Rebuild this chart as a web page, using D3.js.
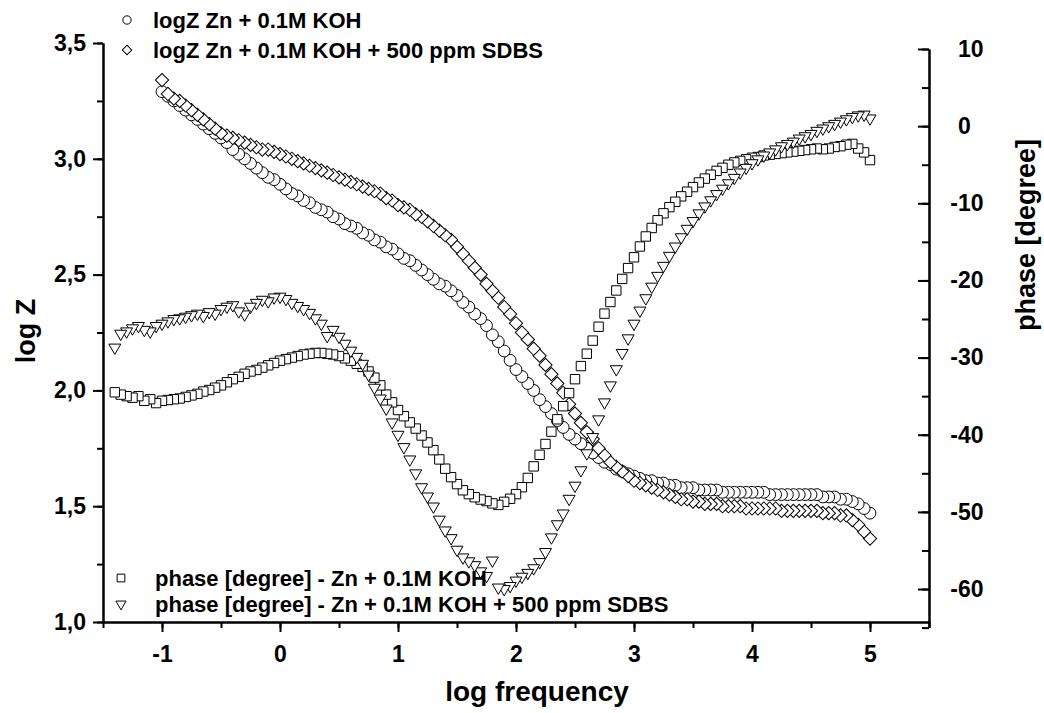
<!DOCTYPE html>
<html>
<head>
<meta charset="utf-8">
<script src="https://cdn.jsdelivr.net/npm/d3@7"></script>
<style>
  body { margin: 0; background: #fff; }
  svg text { font-family: "Liberation Sans", Arial, sans-serif; font-weight: bold; fill: #000; }
  .axis path, .axis line { stroke: #000; stroke-width: 2; }
</style>
</head>
<body>
<svg width="1044" height="713"></svg>
<script>
// log frequency grid shared by all series (phase starts at -1.4, log Z at -1.0)
const logFreq = [
  -1.40, -1.35, -1.30, -1.25, -1.20, -1.15, -1.10, -1.05,
  -1.00, -0.95, -0.90, -0.85, -0.80, -0.75, -0.70, -0.65, -0.60, -0.55,
  -0.50, -0.45, -0.40, -0.35, -0.30, -0.25, -0.20, -0.15, -0.10, -0.05,
  0.00, 0.05, 0.10, 0.15, 0.20, 0.25, 0.30, 0.35, 0.40, 0.45,
  0.50, 0.55, 0.60, 0.65, 0.70, 0.75, 0.80, 0.85, 0.90, 0.95,
  1.00, 1.05, 1.10, 1.15, 1.20, 1.25, 1.30, 1.35, 1.40, 1.45,
  1.50, 1.55, 1.60, 1.65, 1.70, 1.75, 1.80, 1.85, 1.90, 1.95,
  2.00, 2.05, 2.10, 2.15, 2.20, 2.25, 2.30, 2.35, 2.40, 2.45,
  2.50, 2.55, 2.60, 2.65, 2.70, 2.75, 2.80, 2.85, 2.90, 2.95,
  3.00, 3.05, 3.10, 3.15, 3.20, 3.25, 3.30, 3.35, 3.40, 3.45,
  3.50, 3.55, 3.60, 3.65, 3.70, 3.75, 3.80, 3.85, 3.90, 3.95,
  4.00, 4.05, 4.10, 4.15, 4.20, 4.25, 4.30, 4.35, 4.40, 4.45,
  4.50, 4.55, 4.60, 4.65, 4.70, 4.75, 4.80, 4.85, 4.90, 4.95,
  5.00
];

// log Z, Zn + 0.1M KOH (from logFreq -1.0)
const logZKoh = [
  3.29, 3.27, 3.25, 3.23, 3.21, 3.19, 3.17, 3.15, 3.13, 3.11,
  3.09, 3.07, 3.04, 3.02, 3.00, 2.98, 2.96, 2.94, 2.92, 2.91,
  2.89, 2.87, 2.85, 2.84, 2.82, 2.81, 2.79, 2.78, 2.77, 2.75,
  2.74, 2.72, 2.71, 2.70, 2.68, 2.67, 2.65, 2.64, 2.62, 2.61,
  2.59, 2.57, 2.56, 2.54, 2.52, 2.50, 2.48, 2.46, 2.45, 2.43,
  2.41, 2.38, 2.36, 2.33, 2.31, 2.28, 2.24, 2.21, 2.17, 2.13,
  2.09, 2.06, 2.03, 2.00, 1.96, 1.93, 1.90, 1.87, 1.84, 1.81,
  1.79, 1.77, 1.75, 1.73, 1.71, 1.69, 1.68, 1.66, 1.65, 1.64,
  1.63, 1.62, 1.61, 1.61, 1.60, 1.60, 1.59, 1.59, 1.58, 1.58,
  1.58, 1.57, 1.57, 1.57, 1.57, 1.56, 1.56, 1.56, 1.56, 1.56,
  1.56, 1.56, 1.56, 1.55, 1.55, 1.55, 1.55, 1.55, 1.55, 1.55,
  1.55, 1.55, 1.54, 1.54, 1.54, 1.53, 1.53, 1.52, 1.51, 1.49,
  1.47
];

// log Z, Zn + 0.1M KOH + 500 ppm SDBS (from logFreq -1.0)
const logZSdbs = [
  3.34, 3.28, 3.26, 3.25, 3.23, 3.21, 3.19, 3.17, 3.15, 3.13,
  3.11, 3.10, 3.09, 3.08, 3.07, 3.06, 3.05, 3.04, 3.04, 3.03,
  3.02, 3.01, 3.00, 2.99, 2.98, 2.97, 2.96, 2.95, 2.94, 2.93,
  2.92, 2.91, 2.90, 2.89, 2.88, 2.87, 2.86, 2.85, 2.83, 2.82,
  2.80, 2.79, 2.78, 2.76, 2.75, 2.73, 2.71, 2.69, 2.67, 2.65,
  2.62, 2.59, 2.56, 2.53, 2.50, 2.46, 2.43, 2.40, 2.36, 2.33,
  2.29, 2.25, 2.22, 2.18, 2.15, 2.11, 2.07, 2.03, 1.99, 1.94,
  1.90, 1.86, 1.82, 1.79, 1.75, 1.72, 1.69, 1.67, 1.65, 1.63,
  1.61, 1.60, 1.59, 1.58, 1.57, 1.56, 1.55, 1.54, 1.53, 1.53,
  1.52, 1.52, 1.51, 1.51, 1.51, 1.50, 1.50, 1.50, 1.50, 1.49,
  1.49, 1.49, 1.49, 1.49, 1.49, 1.48, 1.48, 1.48, 1.48, 1.48,
  1.48, 1.48, 1.47, 1.47, 1.47, 1.46, 1.46, 1.44, 1.42, 1.39,
  1.36
];

// phase [degree], Zn + 0.1M KOH (from logFreq -1.4)
const phaseKoh = [
  -34.5, -34.8, -35.0, -35.2, -35.0, -35.6, -35.4, -35.9,
  -35.6, -35.5, -35.4, -35.3, -35.1, -34.9, -34.7, -34.4, -34.2, -33.9,
  -33.6, -33.2, -32.8, -32.5, -32.1, -31.8, -31.6, -31.3, -31.0, -30.7,
  -30.4, -30.2, -30.0, -29.8, -29.6, -29.5, -29.4, -29.4, -29.5, -29.6,
  -29.8, -30.1, -30.4, -30.8, -31.2, -31.8, -32.6, -33.6, -34.8, -35.8,
  -36.8, -37.6, -38.4, -39.2, -40.1, -41.0, -42.0, -43.2, -44.4, -45.5,
  -46.4, -47.2, -47.7, -48.1, -48.4, -48.6, -48.9, -49.1, -48.7, -48.3,
  -47.7, -46.8, -45.6, -44.1, -42.6, -41.2, -39.6, -38.0, -36.3, -34.6,
  -32.8, -31.1, -29.5, -27.8, -26.0, -24.3, -22.8, -21.3, -19.8, -18.4,
  -17.0, -15.6, -14.3, -13.2, -12.2, -11.3, -10.5, -9.8, -9.1, -8.5,
  -7.9, -7.3, -6.8, -6.3, -5.8, -5.4, -5.0, -4.7, -4.5, -4.3,
  -4.1, -4.0, -3.8, -3.7, -3.6, -3.5, -3.4, -3.3, -3.2, -3.1,
  -3.0, -2.9, -3.0, -2.9, -2.7, -2.6, -2.4, -2.3, -2.9, -3.4,
  -4.4
];

// phase [degree], Zn + 0.1M KOH + 500 ppm SDBS (from logFreq -1.4)
const phaseSdbs = [
  -28.7, -26.9, -26.6, -26.2, -25.9, -26.4, -26.6, -25.9,
  -25.6, -25.3, -25.0, -24.9, -24.7, -24.5, -24.3, -24.6, -24.1, -24.3,
  -23.7, -23.4, -23.2, -24.0, -24.4, -23.4, -22.9, -22.5, -22.7, -22.2,
  -22.1, -22.4, -22.9, -23.3, -23.7, -24.2, -24.9, -25.6, -27.2, -26.4,
  -27.3, -28.2, -29.1, -29.9, -30.8, -32.2, -33.9, -35.3, -36.6, -38.4,
  -40.0, -41.6, -43.2, -45.0, -46.8, -48.0, -49.3, -51.0, -52.4, -53.4,
  -54.9, -55.9, -56.4, -56.9, -57.7, -58.3, -56.3, -59.8, -60.0, -59.6,
  -58.9, -58.4, -57.9, -57.3, -56.5, -55.2, -53.3, -51.6, -50.2, -48.3,
  -46.6, -44.6, -42.4, -40.3, -38.0, -35.8, -33.6, -31.5, -29.4, -27.5,
  -25.6, -23.9, -22.3, -20.8, -19.4, -18.1, -16.8, -15.6, -14.4, -13.3,
  -12.3, -11.3, -10.4, -9.6, -8.8, -8.1, -7.4, -6.7, -6.0, -5.4,
  -4.8, -4.3, -3.8, -3.4, -3.0, -2.6, -2.3, -2.0, -1.6, -1.3,
  -1.0, -0.6, -0.3, 0.0, 0.3, 0.6, 0.9, 1.2, 1.4, 1.5,
  1.0
];

const xTicks = [-1, 0, 1, 2, 3, 4, 5];
const logZTicks = [1.0, 1.5, 2.0, 2.5, 3.0, 3.5];
const phaseTicks = [-60, -50, -40, -30, -20, -10, 0, 10];

const legendTop = ["logZ Zn + 0.1M KOH", "logZ Zn + 0.1M KOH + 500 ppm SDBS"];
const legendBottom = ["phase [degree] - Zn + 0.1M KOH", "phase [degree] - Zn + 0.1M KOH + 500 ppm SDBS"];

const svg = d3.select("svg");

const x = d3.scaleLinear().domain([-1.5, 5.5]).range([103, 929]);
const yL = d3.scaleLinear().domain([1.0, 3.5]).range([622, 43]);
const yR = d3.scaleLinear().domain([-65, 10]).range([627.6, 49]);

// marker shapes
const shapes = {
  circle: { path: d3.symbol(d3.symbolCircle, 110)(), rot: 0 },
  diamond: { path: d3.symbol(d3.symbolSquare, 88)(), rot: 45 },
  square: { path: d3.symbol(d3.symbolSquare, 88)(), rot: 0 },
  triangle: { path: d3.symbol(d3.symbolTriangle, 62)(), rot: 180 }
};

function series(values, offset, yScale) {
  return values.map((v, i) => ({ x: logFreq[i + offset], y: v, s: yScale }));
}

const allSeries = [
  { pts: series(logZKoh, 8, yL), shape: "circle" },
  { pts: series(logZSdbs, 8, yL), shape: "diamond" },
  { pts: series(phaseKoh, 0, yR), shape: "square" },
  { pts: series(phaseSdbs, 0, yR), shape: "triangle" }
];

const hyphen = d => String(d);

// axes
const minorX = d3.range(-1.5, 5.51, 0.5);
svg.append("g").attr("class", "axis")
  .attr("transform", "translate(0,622)")
  .call(d3.axisBottom(x).tickValues(minorX).tickSize(6).tickSizeOuter(0).tickFormat(""));
svg.append("g").attr("class", "axis")
  .attr("transform", "translate(0,622)")
  .call(d3.axisBottom(x).tickValues(xTicks).tickSize(10).tickSizeOuter(0).tickPadding(14)
    .tickFormat(hyphen))
  .call(g => g.selectAll("text").attr("font-size", 23));

svg.append("g").attr("class", "axis")
  .attr("transform", "translate(103,0)")
  .call(d3.axisLeft(yL).tickValues(d3.range(1, 3.51, 0.25)).tickSize(6).tickSizeOuter(0).tickFormat(""));
svg.append("g").attr("class", "axis")
  .attr("transform", "translate(103,0)")
  .call(d3.axisLeft(yL).tickValues(logZTicks).tickSize(10).tickSizeOuter(0).tickPadding(7)
    .tickFormat(d => d.toFixed(1).replace(".", ",")))
  .call(g => g.selectAll("text").attr("font-size", 23));

svg.append("g").attr("class", "axis")
  .attr("transform", "translate(929,0)")
  .call(d3.axisRight(yR).tickValues(d3.range(-65, 10.1, 5)).tickSize(-7).tickSizeOuter(0).tickFormat(""));
svg.append("g").attr("class", "axis")
  .attr("transform", "translate(929,0)")
  .call(d3.axisRight(yR).tickValues(phaseTicks).tickSize(-11).tickSizeOuter(0).tickPadding(29)
    .tickFormat(hyphen))
  .call(g => g.selectAll("text").attr("font-size", 23)
    .attr("dx", d => d < 0 ? -7.7 : 0));

// axis titles
svg.append("text").attr("x", 537).attr("y", 701).attr("text-anchor", "middle")
  .attr("font-size", 28).text("log frequency");
svg.append("text").attr("transform", "translate(35,331) rotate(-90)").attr("text-anchor", "middle")
  .attr("font-size", 27).text("log  Z");
svg.append("text").attr("transform", "translate(1035,235) rotate(-90)").attr("text-anchor", "middle")
  .attr("font-size", 27).text("phase [degree]");

// data markers, drawn from high to low frequency
allSeries.forEach(sr => {
  const sh = shapes[sr.shape];
  svg.append("g").selectAll("path")
    .data(sr.pts.slice().reverse())
    .join("path")
    .attr("d", sh.path)
    .attr("transform", d => `translate(${x(d.x)},${d.s(d.y)}) rotate(${sh.rot})`)
    .attr("fill", "#fff")
    .attr("stroke", "#000")
    .attr("stroke-width", 1);
});

// legends
const smallShapes = {
  circle: d3.symbol(d3.symbolCircle, 55)(),
  diamond: d3.symbol(d3.symbolSquare, 45)(),
  square: d3.symbol(d3.symbolSquare, 60)(),
  triangle: d3.symbol(d3.symbolTriangle, 45)()
};
function legend(items, shapesUsed, mx, tx, y0, dy) {
  items.forEach((t, i) => {
    const sh = shapesUsed[i];
    const rot = sh === "diamond" ? 45 : sh === "triangle" ? 180 : 0;
    svg.append("path").attr("d", smallShapes[sh])
      .attr("transform", `translate(${mx},${y0 + i * dy - 8}) rotate(${rot})`)
      .attr("fill", "#fff").attr("stroke", "#000").attr("stroke-width", 1);
    svg.append("text").attr("x", tx).attr("y", y0 + i * dy).attr("font-size", 22).text(t);
  });
}
legend(legendTop, ["circle", "diamond"], 127, 153, 28, 30);
legend(legendBottom, ["square", "triangle"], 121, 155, 586, 26);
</script>
</body>
</html>
